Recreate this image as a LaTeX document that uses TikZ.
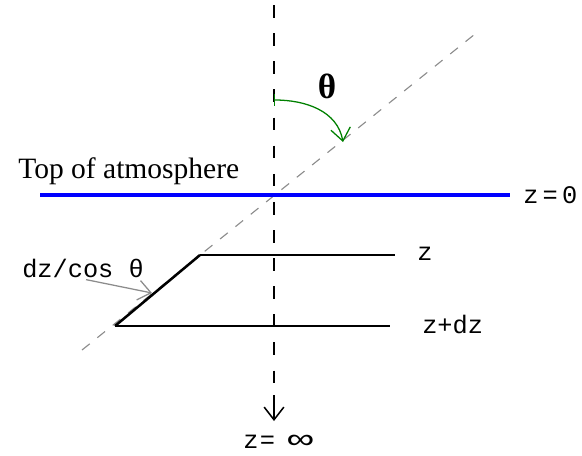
\documentclass[tikz,border=0pt]{standalone}
\usepackage{fontspec}
\setmainfont{Liberation Serif}
\newfontfamily\monofont{Liberation Mono}
\usetikzlibrary{arrows.meta, positioning, calc}
\definecolor{atmblue}{RGB}{0, 0, 255}
\definecolor{anglegreen}{RGB}{0, 128, 0}
\definecolor{raygray}{RGB}{140, 140, 140}
\tikzset{
    axisline/.style={draw=black, line width=1.3pt, dash pattern=on 9pt off 11pt},
    rayline/.style={draw=raygray, line width=0.8pt, dash pattern=on 7pt off 7pt},
    layerline/.style={draw=black, line width=1.1pt},
    slantline/.style={draw=black, line width=1.8pt},
    toaline/.style={draw=atmblue, line width=2.8pt},
    barb/.style={-{Straight Barb[length=9pt, width=14pt]}},
    monolabel/.style={font=\monofont\fontsize{18}{20}\selectfont, inner sep=0pt},
}
\begin{document}
\begin{tikzpicture}[x=0.025cm, y=-0.025cm]
                    \useasboundingbox (0, 0) rectangle (582, 455);
                    
                    % Coordinates
                    \coordinate (axtop) at (274, 5);
                    \coordinate (axend) at (274, 395);
                    \coordinate (axtip) at (274, 421);
                    \coordinate (raylo) at (82, 350);
                    \coordinate (rayhi) at (480, 30);
                    \coordinate (toaw) at (40, 195);
                    \coordinate (toae) at (510, 195);
                    \coordinate (zl) at (200, 255);
                    \coordinate (zr) at (395, 255);
                    \coordinate (dzl) at (115, 326);
                    \coordinate (dzr) at (390, 326);
                    \coordinate (arcstart) at (274, 100);
                    \coordinate (arcend) at (343, 142);
                    \coordinate (slantmid) at (152, 293);
                    
                    % Labels
                    \node[anchor=base west, inner sep=0pt, font=\fontsize{21}{24}\selectfont] (toa) at (18, 178) {Top of atmosphere};
                    \node[monolabel, anchor=west] (zzero) at (523, 195) {z\hspace{3pt}=\hspace{3pt}0};
                    \node[monolabel, anchor=west] (zlab) at (417, 254) {z};
                    \node[monolabel, anchor=west] (zdz) at (422, 324) {z+dz};
                    \node[monolabel, anchor=west] (dzcos) at (22, 268) {dz/cos θ};
                    \node[monolabel, anchor=west] (zinf) at (243, 442) {z\hspace{1pt}=\hspace{9pt}\scalebox{1.7}[1.1]{∞}};
                    \node[font=\bfseries\fontsize{25}{28}\selectfont, inner sep=0pt] (theta) at (327, 86) {θ};
                    
                    % Slant ray and vertical axis
                    \draw[rayline] (raylo) -- (rayhi);
                    \draw[axisline] (axtop) -- (axend);
                    \draw[line width=1.1pt, barb] (axend) -- (axtip);
                    
                    % Top of atmosphere
                    \draw[toaline] (toaw) -- (toae);
                    
                    % Layer z to z+dz
                    \draw[layerline] (zl) -- (zr);
                    \draw[layerline] (dzl) -- (dzr);
                    \draw[slantline] (dzl) -- (zl);
                    
                    % Angle arrow
                    \draw[anglegreen, line width=0.9pt, {Bar[width=8pt]}-{Straight Barb[length=9pt, width=14pt]}] (arcstart) to[out=0, in=100] (arcend);
                    
                    % Path length arrow
                    \draw[raygray, line width=0.9pt, barb] ($(dzcos.south)+(3,2)$) -- (slantmid);
                \end{tikzpicture}
\end{document}
